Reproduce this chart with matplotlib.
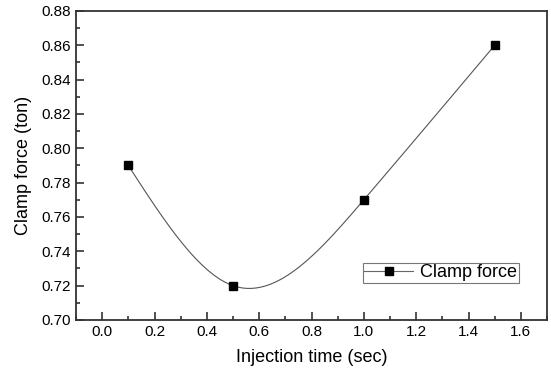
import numpy as np
import matplotlib as mpl
mpl.use('Agg')
from matplotlib import pyplot as plt
from matplotlib.ticker import MultipleLocator

injection_time = [0.1, 0.5, 1.0, 1.5]
clamp_force = [0.79, 0.72, 0.77, 0.86]


def natural_spline(x, y, xs):
    # plain natural cubic spline, no scipy needed
    x = np.asarray(x, float)
    y = np.asarray(y, float)
    n = len(x)
    h = np.diff(x)
    A = np.zeros((n, n))
    b = np.zeros(n)
    A[0, 0] = A[-1, -1] = 1
    for i in range(1, n - 1):
        A[i, i - 1] = h[i - 1]
        A[i, i] = 2 * (h[i - 1] + h[i])
        A[i, i + 1] = h[i]
        b[i] = 3 * ((y[i + 1] - y[i]) / h[i] - (y[i] - y[i - 1]) / h[i - 1])
    c = np.linalg.solve(A, b)
    out = np.empty_like(xs)
    for k, xv in enumerate(xs):
        i = min(max(np.searchsorted(x, xv) - 1, 0), n - 2)
        d = xv - x[i]
        bi = (y[i + 1] - y[i]) / h[i] - h[i] * (2 * c[i] + c[i + 1]) / 3
        di = (c[i + 1] - c[i]) / (3 * h[i])
        out[k] = y[i] + bi * d + c[i] * d ** 2 + di * d ** 3
    return out


plt.rcParams['font.family'] = ['Liberation Sans', 'DejaVu Sans']

fig = plt.figure(figsize=(5.51, 3.73), dpi=100)
ax = fig.add_axes([76 / 551, 1 - 320 / 373, (547 - 76) / 551, (320 - 11) / 373])

xs = np.linspace(injection_time[0], injection_time[-1], 300)
ax.plot(xs, natural_spline(injection_time, clamp_force, xs), color='#555555', lw=0.8)
ax.plot(injection_time, clamp_force, 's', color='black', ms=6, ls='none')
# legend handle: line with marker
ax.plot([], [], '-s', color='#666666', mfc='black', mec='black', ms=6, lw=0.8, label='Clamp force')

ax.set_xlim(-0.1, 1.7)
ax.set_ylim(0.70, 0.88)
ax.xaxis.set_major_locator(MultipleLocator(0.2))
ax.xaxis.set_minor_locator(MultipleLocator(0.1))
ax.yaxis.set_major_locator(MultipleLocator(0.02))
ax.yaxis.set_minor_locator(MultipleLocator(0.01))
ax.set_xticks(np.arange(0, 1.61, 0.2))
ax.xaxis.set_major_formatter(mpl.ticker.FormatStrFormatter('%.1f'))
ax.yaxis.set_major_formatter(mpl.ticker.FormatStrFormatter('%.2f'))
ax.tick_params(which='both', direction='in', top=False, right=False, labelsize=11, width=1.2, color='#333333')
ax.tick_params(which='major', length=6)
ax.tick_params(which='minor', length=3)
for s in ax.spines.values():
    s.set_linewidth(1.3)
    s.set_color('#333333')

ax.set_xlabel('Injection time (sec)', fontsize=13, labelpad=7)
ax.set_ylabel('Clamp force (ton)', fontsize=13, labelpad=7)

leg = ax.legend(loc='lower right', bbox_to_anchor=(0.94, 0.12), fontsize=13, fancybox=False,
                handlelength=2.7, borderpad=0.08, handletextpad=0.4, borderaxespad=0)
leg.get_frame().set_edgecolor('#555555')
leg.get_frame().set_linewidth(0.8)

fig.savefig('out.png', dpi=100)
